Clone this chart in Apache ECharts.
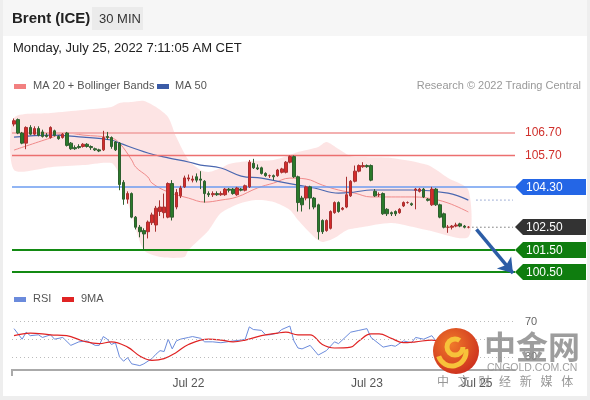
<!DOCTYPE html>
<html><head><meta charset="utf-8">
<script src="https://cdn.jsdelivr.net/npm/echarts/dist/echarts.min.js"></script>
<style>html,body{margin:0;padding:0;background:#fff}#c{width:590px;height:400px}</style>
</head><body><div id="c"></div><script>
// ---- data ----
const slotCount = 124; // category slots incl. empty future space
const opens  = [107.10,107.30,106.70,106.25,106.95,106.65,106.90,106.75,106.60,106.50,106.80,106.55,106.50,106.70,106.25,106.05,106.10,106.10,106.20,106.10,106.00,105.95,105.95,106.55,106.50,106.30,106.25,104.50,103.75,104.00,102.95,102.50,102.35,102.30,102.70,102.60,103.20,103.15,102.95,104.45,103.40,103.90,104.30,104.65,104.60,104.75,104.65,104.55,104.00,103.95,104.00,103.95,103.95,104.20,104.20,103.95,104.20,104.15,104.30,105.35,105.15,105.15,104.90,104.80,104.80,104.80,104.95,104.95,105.40,105.65,104.75,103.80,103.80,104.30,103.80,103.50,102.80,102.35,102.45,103.15,103.60,103.30,103.40,103.90,104.55,105.00,105.20,105.25,105.25,104.10,103.95,104.00,103.30,103.15,103.20,103.15,103.45,103.60,103.55,104.15,104.10,104.20,103.75,103.50,104.20,103.50,103.10,102.50,102.50,102.55,102.65,102.55,102.50];
const closes = [107.25,106.70,106.25,106.95,106.65,106.90,106.60,106.55,106.55,106.95,106.60,106.45,106.65,106.15,106.00,106.00,106.05,106.20,106.10,106.05,105.95,105.90,106.50,106.50,106.10,105.95,104.40,103.75,104.00,102.95,102.50,102.30,102.20,102.73,103.05,103.35,103.40,103.40,104.45,102.95,104.05,104.25,104.70,104.70,104.65,104.60,104.60,104.00,103.95,104.00,103.95,104.00,104.20,104.15,104.00,104.25,104.15,104.35,105.40,105.15,105.10,104.90,104.80,104.80,104.75,105.05,105.10,105.40,105.65,104.75,103.60,103.50,104.30,103.80,103.40,102.30,102.30,102.80,103.20,103.60,103.20,103.35,103.95,104.55,105.00,105.25,105.25,105.20,104.60,103.90,103.95,103.10,103.10,103.10,103.10,103.30,103.60,103.60,103.50,104.20,104.20,103.85,103.70,104.20,103.50,102.95,102.50,102.50,102.55,102.60,102.55,102.50,102.50];
const highs  = [107.35,107.35,106.75,107.00,107.05,107.00,107.00,106.85,106.70,107.00,106.85,106.60,106.70,106.75,106.30,106.15,106.20,106.25,106.25,106.15,106.05,106.00,106.80,106.75,106.55,106.35,106.30,104.60,104.10,104.05,103.00,102.60,102.45,102.80,103.15,103.45,103.70,104.00,104.50,104.60,104.20,104.35,104.80,104.85,104.80,104.90,105.00,104.60,104.10,104.10,104.10,104.10,104.25,104.25,104.25,104.30,104.25,104.40,105.50,105.55,105.30,105.20,104.95,104.85,104.85,105.10,105.15,105.45,105.70,105.70,104.80,103.90,104.35,104.35,103.85,103.55,102.85,102.85,103.25,103.65,103.65,103.40,104.75,104.60,105.25,105.30,105.40,105.30,105.30,104.20,104.05,104.05,103.35,103.20,103.25,103.35,103.65,103.65,103.60,104.25,104.25,104.25,103.80,104.30,104.25,103.55,103.15,102.60,102.60,102.70,102.70,102.60,102.55];
const lows   = [107.00,106.65,106.20,105.98,106.60,106.60,106.55,106.50,106.50,106.45,106.55,106.40,106.45,106.10,105.95,105.95,106.00,106.05,106.05,105.95,105.90,105.85,105.90,106.40,106.00,105.90,104.15,103.50,103.55,102.90,102.40,102.05,101.50,102.00,102.60,102.30,103.00,102.90,102.90,102.80,103.30,103.80,104.25,104.55,104.50,104.50,104.20,103.60,103.85,103.85,103.90,103.90,103.90,104.05,103.95,103.90,104.10,104.10,104.25,105.10,105.05,104.85,104.75,104.70,104.60,104.75,104.90,104.90,105.35,104.70,103.20,103.20,103.70,103.30,103.30,101.95,102.20,102.30,102.40,103.10,103.15,103.25,103.35,103.85,104.50,104.95,105.15,105.15,104.55,103.85,103.85,103.05,103.00,103.00,103.00,103.10,103.40,103.55,103.45,103.30,104.05,103.80,103.65,103.45,103.45,102.90,102.45,102.25,102.40,102.50,102.50,102.45,102.45];

const bbUpper = [[0,107.37],[9,107.59],[17,107.73],[24,107.86],[26,108.04],[29,108.08],[32,108.13],[35,107.86],[38,107.41],[40,106.52],[43,105.50],[46,105.05],[48,104.96],[51,105.14],[53,105.32],[58,105.45],[64,105.50],[68,105.72],[70,105.85],[75,106.08],[77,106.30],[80,105.99],[83,105.67],[86,105.63],[93,105.59],[102,105.27],[107,104.69],[112,104.16]];
const bbLower = [[0,105.05],[9,105.18],[17,105.27],[24,105.36],[26,104.83],[29,103.04],[32,101.48],[36,101.17],[42,101.17],[43,101.48],[48,102.37],[51,103.13],[56,103.58],[60,103.71],[64,103.62],[68,103.27],[70,102.82],[74,102.06],[76,101.84],[79,102.02],[82,102.37],[86,102.51],[93,102.69],[102,102.37],[112,102.06]];
const ma20 = [[0,105.94],[9,106.48],[13,106.70],[17,106.61],[24,106.48],[26,106.25],[29,105.50],[30,105.18],[33,104.74],[34,104.47],[38,104.07],[43,103.80],[47,103.62],[51,103.71],[55,103.85],[60,104.25],[64,104.47],[68,104.69],[72,104.65],[76,104.38],[80,104.16],[84,104.02],[88,103.85],[98,103.85],[102,103.80],[107,103.58],[112,103.18]];
const ma50 = [[0,106.52],[9,106.61],[17,106.52],[24,106.39],[26,106.25],[33,105.81],[38,105.59],[43,105.41],[46,105.27],[51,105.14],[56,104.78],[61,104.69],[66,104.51],[74,104.25],[80,104.02],[84,104.07],[88,104.16],[98,104.16],[107,104.02],[112,103.71]];

const rsi = [[0,62],[2,50],[3,58],[4,54],[6,55],[7,52],[9,55],[10,50],[12,52],[14,43],[16,47],[18,48],[20,43],[21,43],[22,53],[23,50],[24,44],[25,46],[26,30],[27,25],[28,29],[29,22],[31,20],[32,22],[34,28],[35,33],[36,37],[37,36],[38,50],[39,39],[40,48],[41,50],[43,52],[44,53],[46,51],[47,47],[49,47],[51,46],[54,48],[56,49],[57,50],[58,64],[59,61],[61,60],[62,55],[63,55],[65,57],[66,61],[68,65],[69,48],[70,40],[71,39],[73,43],[75,32],[77,37],[79,47],[80,45],[83,58],[85,60],[87,62],[88,52],[91,41],[93,43],[94,42],[96,48],[98,46],[99,52],[101,50],[103,54],[104,48],[106,38],[107,32],[109,34],[111,35],[112,36]];
const rsiMA = [[0,54],[4,57],[9,55],[13,54],[17,48],[21,45],[24,47],[28,41],[31,31],[34,26],[37,28],[40,35],[43,44],[48,50],[51,49],[54,47],[57,49],[61,54],[65,57],[67,58],[70,55],[73,55],[76,44],[79,40],[83,41],[85,48],[88,56],[90,56],[93,51],[96,46],[99,47],[103,49],[107,45],[112,41]];

const levels      = [106.70, 105.70, 104.30, 102.50, 101.50, 100.50];
const levelLabels = ['106.70','105.70','104.30','102.50','101.50','100.50'];
const rsiLevels   = [70, 50, 30];
const tickIndex   = [43, 87, 114];
const tickLabels  = ['Jul 22', 'Jul 23', 'Jul 25'];
const arrowFrom   = [113.5, 102.40];
const arrowTo     = [122.6, 100.45];
const wmChars     = ['中', '文', '财', '经', '新', '媒', '体'];

// ---- chart ----
const FONT = "'Liberation Sans', Arial, sans-serif";
const categories = Array.from({length: slotCount}, (_, i) => String(i));
const candleData = opens.map((o, i) => [o, closes[i], lows[i], highs[i]]);
const lastIdx = opens.length - 1;

const levelStyle = [
  {line: {color: '#f3b0b0', width: 2, type: 'solid'}, text: '#d0302c'},
  {line: {color: '#ec6f6f', width: 1.3, type: 'solid'}, text: '#d0302c'},
  {line: {color: '#6d9cf0', width: 1.5, type: 'solid'}, box: '#2466e6'},
  {line: null, box: '#333333'},
  {line: {color: '#138a13', width: 2, type: 'solid'}, box: '#0f7d0f'},
  {line: {color: '#138a13', width: 2, type: 'solid'}, box: '#0f7d0f'}
];

const chart = echarts.init(document.getElementById('c'), null, {renderer: 'canvas'});
const tickMap = {};
tickIndex.forEach((k, j) => tickMap[k] = tickLabels[j]);

const mainLines = [];
levels.forEach((v, i) => {
  const st = levelStyle[i];
  if (!st.line) return;
  const item = {yAxis: v, lineStyle: Object.assign({opacity: 1}, st.line), label: {show: false}};
  if (st.text) item.label = {show: true, position: 'end', distance: 10, formatter: levelLabels[i], color: st.text, fontSize: 12, fontFamily: FONT};
  mainLines.push(item);
});

chart.setOption({
  animation: false,
  backgroundColor: '#ffffff',
  textStyle: {fontFamily: FONT},
  grid: [
    {left: 12, right: 75, top: 90, height: 200},
    {left: 12, right: 75, top: 304, height: 66}
  ],
  xAxis: [
    {type: 'category', gridIndex: 0, data: categories, boundaryGap: true, show: false},
    {type: 'category', gridIndex: 1, data: categories, boundaryGap: true,
     axisLine: {show: true, lineStyle: {color: '#aaaaaa', width: 2}},
     axisTick: {show: false},
     axisLabel: {interval: 0, color: '#555', fontSize: 12, margin: 8, fontFamily: FONT,
                 formatter: (v, idx) => tickMap[idx] || ''}}
  ],
  yAxis: [
    {type: 'value', gridIndex: 0, min: 99.70, max: 108.62, show: false, splitLine: {show: false}},
    {type: 'value', gridIndex: 1, min: 15, max: 90, show: false, splitLine: {show: false}}
  ],
  series: [
    {
      type: 'custom', xAxisIndex: 0, yAxisIndex: 0, z: 1, silent: true,
      data: [[0, bbUpper[0][1]]],
      renderItem: function (params, api) {
        const up = bbUpper.map(p => api.coord(p));
        const lo = bbLower.slice().reverse().map(p => api.coord(p));
        return {type: 'polygon', shape: {points: up.concat(lo), smooth: 0.25}, style: {fill: '#fde1e1', opacity: 0.9}};
      }
    },
    {
      type: 'line', xAxisIndex: 0, yAxisIndex: 0, data: [], z: 2, color: '#ec6f6f',
      markLine: {silent: true, symbol: 'none', animation: false, data: mainLines}
    },
    {type: 'line', xAxisIndex: 0, yAxisIndex: 0, data: ma20, smooth: 0.4, showSymbol: false, z: 3,
     lineStyle: {color: '#f08a8a', width: 1}},
    {type: 'line', xAxisIndex: 0, yAxisIndex: 0, data: ma50, smooth: 0.4, showSymbol: false, z: 3,
     lineStyle: {color: '#4a67b0', width: 1.2}},
    {type: 'line', xAxisIndex: 0, yAxisIndex: 0, showSymbol: false, z: 3,
     data: [[lastIdx + 2, ma50[ma50.length - 1][1]], [slotCount - 1, ma50[ma50.length - 1][1]]],
     lineStyle: {color: '#4a67b0', width: 1, type: [1, 3]}},
    {type: 'line', xAxisIndex: 0, yAxisIndex: 0, showSymbol: false, z: 3,
     data: [[lastIdx + 1, levels[3]], [slotCount - 1, levels[3]]],
     lineStyle: {color: '#333', width: 1, type: [1, 3]}},
    {
      type: 'candlestick', xAxisIndex: 0, yAxisIndex: 0, data: candleData, barWidth: 3, z: 5,
      itemStyle: {color: '#d42b2b', color0: '#2a7a2a', borderColor: '#a83030', borderColor0: '#2f5f2f', borderWidth: 1}
    },
    {
      type: 'line', xAxisIndex: 0, yAxisIndex: 0, data: [], z: 6,
      markLine: {silent: true, animation: false, symbol: ['none', 'arrow'], symbolSize: [14, 14],
        lineStyle: {color: '#2c5da6', width: 3.5, type: 'solid'}, label: {show: false},
        data: [[{coord: arrowFrom}, {coord: arrowTo}]]}
    },
    {
      type: 'line', xAxisIndex: 1, yAxisIndex: 1, data: [], z: 1,
      markLine: {silent: true, symbol: 'none', animation: false,
        lineStyle: {color: '#bbbbbb', width: 1, type: [1, 3]},
        data: rsiLevels.map(v => ({yAxis: v, label: {show: v !== 50, position: 'end', distance: 10, formatter: String(v), color: '#666', fontSize: 11, fontFamily: FONT}}))}
    },
    {type: 'line', xAxisIndex: 1, yAxisIndex: 1, data: rsi, showSymbol: false, z: 3,
     lineStyle: {color: '#6b8bdc', width: 1}},
    {type: 'line', xAxisIndex: 1, yAxisIndex: 1, data: rsiMA, smooth: 0.4, showSymbol: false, z: 4,
     lineStyle: {color: '#e02424', width: 1.2}}
  ]
});

// ---- decorations & boxed labels ----
function T(x, y, text, font, fill, align) {
  return {type: 'text', x: x, y: y, z: 100, silent: true,
    style: {text: text, font: font, fill: fill, align: align || 'left', verticalAlign: 'middle',
            textAlign: align || 'left', textVerticalAlign: 'middle'}};
}
const g = [];
g.push({type: 'rect', shape: {x: 0, y: 0, width: 590, height: 36}, style: {fill: '#f6f6f6'}, z: 0, silent: true});
g.push({type: 'rect', shape: {x: 0, y: 0, width: 3, height: 400}, style: {fill: '#eeeeee'}, z: 0, silent: true});
g.push({type: 'rect', shape: {x: 587, y: 0, width: 3, height: 400}, style: {fill: '#eeeeee'}, z: 0, silent: true});
g.push({type: 'rect', shape: {x: 0, y: 396, width: 590, height: 4}, style: {fill: '#eeeeee'}, z: 0, silent: true});
g.push({type: 'rect', shape: {x: 92, y: 7, width: 51, height: 23}, style: {fill: '#ebebeb'}, z: 1, silent: true});
g.push({type: 'line', shape: {x1: 12, y1: 369, x2: 12, y2: 376}, style: {stroke: '#aaaaaa', lineWidth: 2}, z: 1, silent: true});
g.push(T(12, 19, 'Brent (ICE)', 'bold 15px ' + FONT, '#222'));
g.push(T(99, 19, '30 MIN', '13px ' + FONT, '#333'));
g.push(T(13, 48, 'Monday, July 25, 2022 7:11:05 AM CET', '13px ' + FONT, '#222'));
// legends
g.push({type: 'rect', shape: {x: 14, y: 84, width: 12, height: 5}, style: {fill: '#f28080'}, z: 100, silent: true});
g.push(T(33, 86, 'MA 20 + Bollinger Bands', '11px ' + FONT, '#555'));
g.push({type: 'rect', shape: {x: 157, y: 84, width: 12, height: 5}, style: {fill: '#3b5ba6'}, z: 100, silent: true});
g.push(T(175, 86, 'MA 50', '11px ' + FONT, '#555'));
g.push(T(581, 86, 'Research \u00A9 2022 Trading Central', '11px ' + FONT, '#999', 'right'));
g.push({type: 'rect', shape: {x: 14, y: 297, width: 12, height: 5}, style: {fill: '#6b8bdc'}, z: 100, silent: true});
g.push(T(33, 299, 'RSI', '11px ' + FONT, '#555'));
g.push({type: 'rect', shape: {x: 62, y: 297, width: 12, height: 5}, style: {fill: '#e02424'}, z: 100, silent: true});
g.push(T(81, 299, '9MA', '11px ' + FONT, '#555'));
// boxed level labels
levels.forEach((v, i) => {
  const st = levelStyle[i];
  if (!st.box) return;
  const y = Math.round(chart.convertToPixel({yAxisIndex: 0}, v));
  g.push({type: 'polygon', z: 100, silent: true,
    shape: {points: [[515, y], [523, y - 8], [586, y - 8], [586, y + 8], [523, y + 8]]},
    style: {fill: st.box}});
  g.push(T(526, y + 0.5, levelLabels[i], '12px ' + FONT, '#fff'));
});
// watermark
g.push({type: 'circle', z: 120, silent: true, shape: {cx: 456, cy: 351, r: 23},
  style: {fill: new echarts.graphic.RadialGradient(0.4, 0.35, 0.8, [{offset: 0, color: '#f07a2a'}, {offset: 1, color: '#c7241c'}])}});
g.push({type: 'arc', z: 121, silent: true, shape: {cx: 455, cy: 347, r: 8, startAngle: 0, endAngle: Math.PI * 1.7},
  style: {stroke: '#f7c23a', lineWidth: 5, fill: null}});
g.push({type: 'arc', z: 121, silent: true, shape: {cx: 452, cy: 352, r: 14, startAngle: -0.2, endAngle: Math.PI * 0.9},
  style: {stroke: '#f7c23a', lineWidth: 5, fill: null}});
g.push(T(484, 347, '中金网', "bold 32px 'Noto Sans CJK SC'", 'rgba(140,140,140,0.85)'));
g.push(T(487, 368, 'CNGOLD.COM.CN', '10.5px ' + FONT, 'rgba(150,150,150,0.9)'));
wmChars.forEach((ch, k) => g.push(T(437 + k * 20.7, 381, ch, "12px 'Noto Sans CJK SC'", 'rgba(140,140,140,0.9)')));
chart.setOption({graphic: g});
</script></body></html>
